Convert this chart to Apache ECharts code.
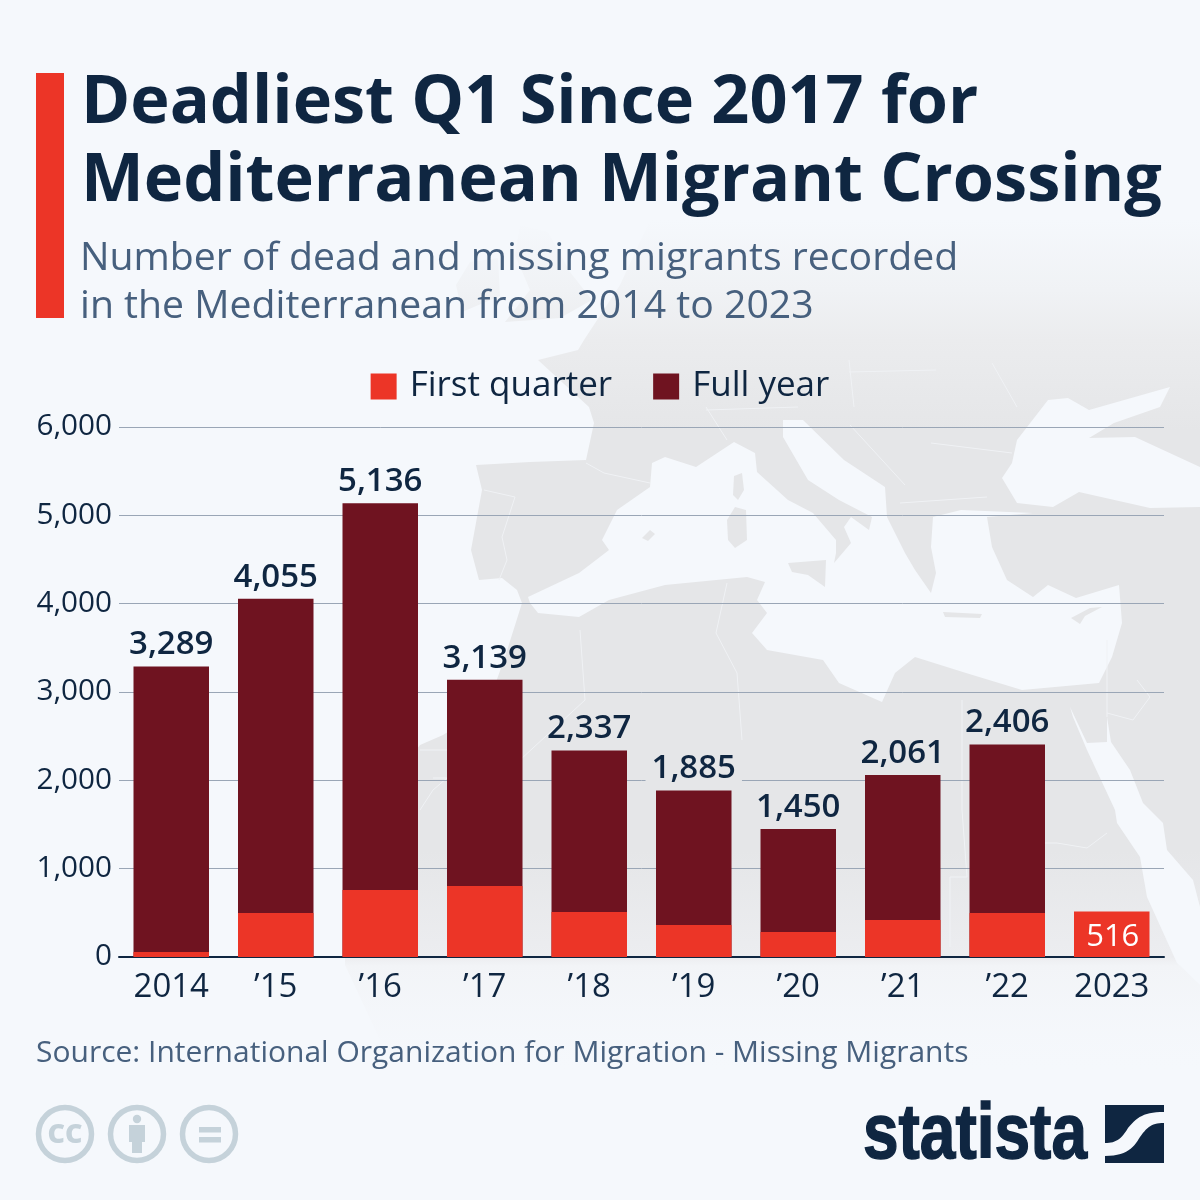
<!DOCTYPE html>
<html><head><meta charset="utf-8">
<style>html,body{margin:0;padding:0;background:#f5f8fc}#c{width:1200px;height:1200px}</style>
<script src="https://cdn.jsdelivr.net/npm/echarts@6/dist/echarts.min.js"></script>
</head><body><div id="c"></div>
<script>
const categories = ['2014','’15','’16','’17','’18','’19','’20','’21','’22','2023'];
const firstQuarter = [57, 498, 758, 804, 509, 362, 283, 419, 498, 516];
const fullYear = [3289, 4055, 5136, 3139, 2337, 1885, 1450, 2061, 2406, null];
const yTicks = [0, 1000, 2000, 3000, 4000, 5000, 6000];
const titleLines = ['Deadliest Q1 Since 2017 for', 'Mediterranean Migrant Crossing'];
const subtitleLines = ['Number of dead and missing migrants recorded', 'in the Mediterranean from 2014 to 2023'];
const sourceText = 'Source: International Organization for Migration - Missing Migrants';

const BG = '#f5f8fc', INK = '#0f2641', SLATE = '#47607e', RED = '#ec3527', DARK = '#6f1320', ICON = '#c5d2da', FONT = '"Open Sans"';

// Decorative backdrop: simplified Mediterranean map
const span = y => (y - 220) / (1070 - 220);
const landFill = {type:'linear', x:0, y:220, x2:0, y2:1070, global:true, colorStops:[
  {offset:0, color:'rgba(240,242,245,0)'},
  {offset:span(290), color:'#f0f2f5'},
  {offset:span(340), color:'#ebecee'},
  {offset:span(430), color:'#e5e6e8'},
  {offset:span(850), color:'#e5e6e8'},
  {offset:span(957), color:'#ecedf0'},
  {offset:span(966), color:'#f2f4f7'},
  {offset:1, color:'rgba(244,246,250,0)'}]};
const land = [
 [[650,220],[1200,220],[1200,1070],[440,1070],[380,1040],[345,965],[345,820],[400,770],[420,745],[443,735],[487,707],[505,657],[522,603],[517,590],[502,578],[479,580],[471,550],[482,490],[476,465],[530,462],[586,460],[594,423],[589,407],[538,360],[578,350],[584,340],[620,285]],
 [[520,225],[548,232],[570,272],[592,300],[560,318],[505,322],[530,290],[515,255]],
 [[470,262],[498,258],[500,296],[462,312],[456,285]]
];
const sea = [
 [[528,597],[579,573],[596,560],[609,550],[602,540],[617,510],[650,487],[652,463],[665,457],[696,467],[734,442],[755,453],[757,472],[788,500],[813,513],[836,540],[836,553],[834,563],[851,543],[844,527],[851,517],[869,530],[872,517],[839,500],[808,480],[783,437],[783,420],[803,420],[844,460],[885,487],[887,517],[905,553],[915,570],[931,593],[936,573],[931,547],[933,517],[961,510],[1033,513],[987,517],[992,547],[1007,580],[1033,597],[1048,585],[1076,598],[1119,585],[1122,623],[1112,657],[1099,683],[1022,690],[966,673],[915,657],[895,673],[882,702],[839,683],[823,660],[767,650],[752,633],[767,613],[757,600],[765,582],[747,577],[665,585],[609,600],[579,617],[538,613],[530,603]],
 [[1017,440],[1048,400],[1068,398],[1089,410],[1170,387],[1160,407],[1114,423],[1089,438],[1135,437],[1200,467],[1200,507],[1150,508],[1079,492],[1053,507],[1017,503],[1002,478],[1012,463]],
 [[1070,707],[1087,743],[1107,742],[1107,717],[1111,742],[1130,770],[1143,803],[1163,823],[1167,850],[1193,880],[1200,907],[1200,985],[1177,963],[1147,897],[1140,857],[1117,823],[1115,810],[1087,750],[1073,717]]
];
const islands = [
 [[727,520],[735,507],[746,510],[747,540],[735,548],[728,540]],
 [[734,476],[742,473],[744,490],[738,500],[733,495]],
 [[788,563],[826,560],[825,587],[808,575],[792,572]],
 [[943,612],[982,614],[980,618],[945,617]],
 [[1071,618],[1090,608],[1102,607],[1085,616],[1080,624]],
 [[642,538],[650,530],[655,534],[648,541]]
];
const borders = [
 [[484,490],[515,497],[502,537],[507,560],[499,580]],
 [[586,463],[604,473],[650,483]],
 [[727,583],[716,633],[737,673],[742,740]],
 [[962,700],[962,810],[967,877],[950,877],[950,947]],
 [[1045,843],[1057,843],[1087,848],[1107,833]],
 [[1107,713],[1133,720],[1150,697],[1137,680]],
 [[706,407],[727,440]],[[706,410],[798,407]],[[850,425],[905,485]],
 [[931,443],[1012,453]],[[900,503],[987,497]],[[849,360],[854,407]],
 [[992,363],[1017,407]],[[849,372],[936,370]],[[580,630],[585,700],[520,760]],
 [[420,750],[447,750]],[[433,778],[447,778],[433,790],[420,810]],[[1107,640],[1107,717]]
];
const poly = (points, fill) => ({type:'polygon', silent:true, z:-5, shape:{points}, style:{fill}});
const mapEls = [
  ...land.map(p => poly(p, landFill)),
  ...sea.map(p => poly(p, BG)),
  ...islands.map(p => poly(p, '#e5e6e8')),
  ...borders.map(points => ({type:'polyline', silent:true, z:-4, shape:{points}, style:{stroke:'#f0f2f5', lineWidth:1, fill:null}}))
];
const txt = (text, x, y, font, fill, extra={}, el={}) => Object.assign({type:'text', silent:true, z:10, x, y, style:Object.assign({text, font, fill, verticalAlign:'middle'}, extra)}, el);
const ring = cx => ({type:'circle', silent:true, z:10, shape:{cx, cy:1134, r:26.5}, style:{fill:null, stroke:ICON, lineWidth:5.5}});
const rect = (x,y,width,height,fill) => ({type:'rect', silent:true, z:10, shape:{x,y,width,height}, style:{fill}});
// Logo mark: sample cubic curves into polygon outlines
const cub = (p0,p1,p2,p3) => { const out=[]; for(let k=1;k<=14;k++){const t=k/14,u=1-t; out.push([u*u*u*p0[0]+3*u*u*t*p1[0]+3*u*t*t*p2[0]+t*t*t*p3[0], u*u*u*p0[1]+3*u*u*t*p1[1]+3*u*t*t*p2[1]+t*t*t*p3[1]]);} return out; };
const logoTop = [[1105,1105],[1164,1105],[1164,1112],...cub([1164,1112],[1144,1112],[1137,1117],[1128,1128]),...cub([1128,1128],[1121,1140],[1115,1143],[1105,1143])];
const logoBottom = [[1164,1123],[1164,1163],[1105,1163],[1105,1156],...cub([1105,1156],[1127,1156],[1134,1147],[1140,1137]),...cub([1140,1137],[1147,1127],[1152,1123],[1164,1123])];
const logo = p => ({type:'polygon', silent:true, z:10, shape:{points:p}, style:{fill:INK}});

const chart = echarts.init(document.getElementById('c'), null, {renderer:'canvas'});
chart.setOption({
  animation:false,
  backgroundColor:BG,
  textStyle:{fontFamily:FONT},
  legend:{
    data:['First quarter','Full year'], top:364, left:'center', itemWidth:26, itemHeight:26, itemGap:41,
    icon:'rect', selectedMode:false,
    textStyle:{color:INK, fontSize:35, fontFamily:FONT, padding:[0,0,0,8]}
  },
  grid:{left:119, right:36, top:427, bottom:243, containLabel:false},
  xAxis:{
    type:'category', data:categories,
    axisLine:{lineStyle:{color:INK, width:2}}, axisTick:{show:false},
    axisLabel:{color:INK, fontSize:33, fontFamily:FONT, margin:14, interval:0}
  },
  yAxis:{
    type:'value', min:yTicks[0], max:yTicks[yTicks.length-1], interval:1000,
    axisLine:{show:false}, axisTick:{show:false},
    splitLine:{lineStyle:{color:'#9aa6b6', width:1}},
    axisLabel:{color:INK, fontSize:29.7, fontFamily:FONT, margin:7, padding:[7,0,0,0], formatter:v=>v.toLocaleString('en-US')}
  },
  series:[
    {name:'Full year', type:'bar', barWidth:75.5, barGap:'-100%', z:2,
     itemStyle:{color:DARK},
     data:fullYear.map(v=> v===1885 ? {value:v, label:{backgroundColor:'#e5e6e8', padding:[0,6,0,6]}} : v),
     label:{show:true, position:'top', distance:5, color:INK, fontSize:33, fontWeight:600, fontFamily:FONT,
       formatter:p=>p.value==null?'':Number(p.value).toLocaleString('en-US')}},
    {name:'First quarter', type:'bar', barWidth:75.5, z:3,
     itemStyle:{color:RED},
     data:firstQuarter.map((v,i)=> fullYear[i]==null
       ? {value:v, label:{show:true, position:'inside', offset:[1,3], color:'#fff', fontSize:31, fontWeight:500, fontFamily:FONT, formatter:'{c}'}} : v)}
  ],
  graphic:{elements:[
    ...mapEls,
    rect(36,73,28,245,RED),
    txt(titleLines[0],81,104.5,'700 66.6px "Open Sans"',INK),
    txt(titleLines[1],81,182.5,'700 66.6px "Open Sans"',INK),
    txt(subtitleLines[0],80,259,'400 39.2px "Open Sans"',SLATE),
    txt(subtitleLines[1],80,307,'400 39.2px "Open Sans"',SLATE),
    txt(sourceText,36,1053,'400 30px "Open Sans"',SLATE),
    ring(65),ring(137),ring(209),
    txt('CC',65,1135,'800 27px "Open Sans"',ICON,{align:'center'}),
    {type:'circle',silent:true,z:10,shape:{cx:137,cy:1119,r:4.2},style:{fill:ICON}},
    rect(129,1125,16,17,ICON),rect(132,1142,10,11,ICON),
    rect(199,1127,22,5.5,ICON),rect(199,1137,22,5.5,ICON),
    txt('statista',863,1136,'700 78px "Liberation Sans"',INK,{stroke:INK,lineWidth:1.5},{scaleX:0.82}),
    logo(logoTop),logo(logoBottom)
  ]}
});
</script></body></html>
